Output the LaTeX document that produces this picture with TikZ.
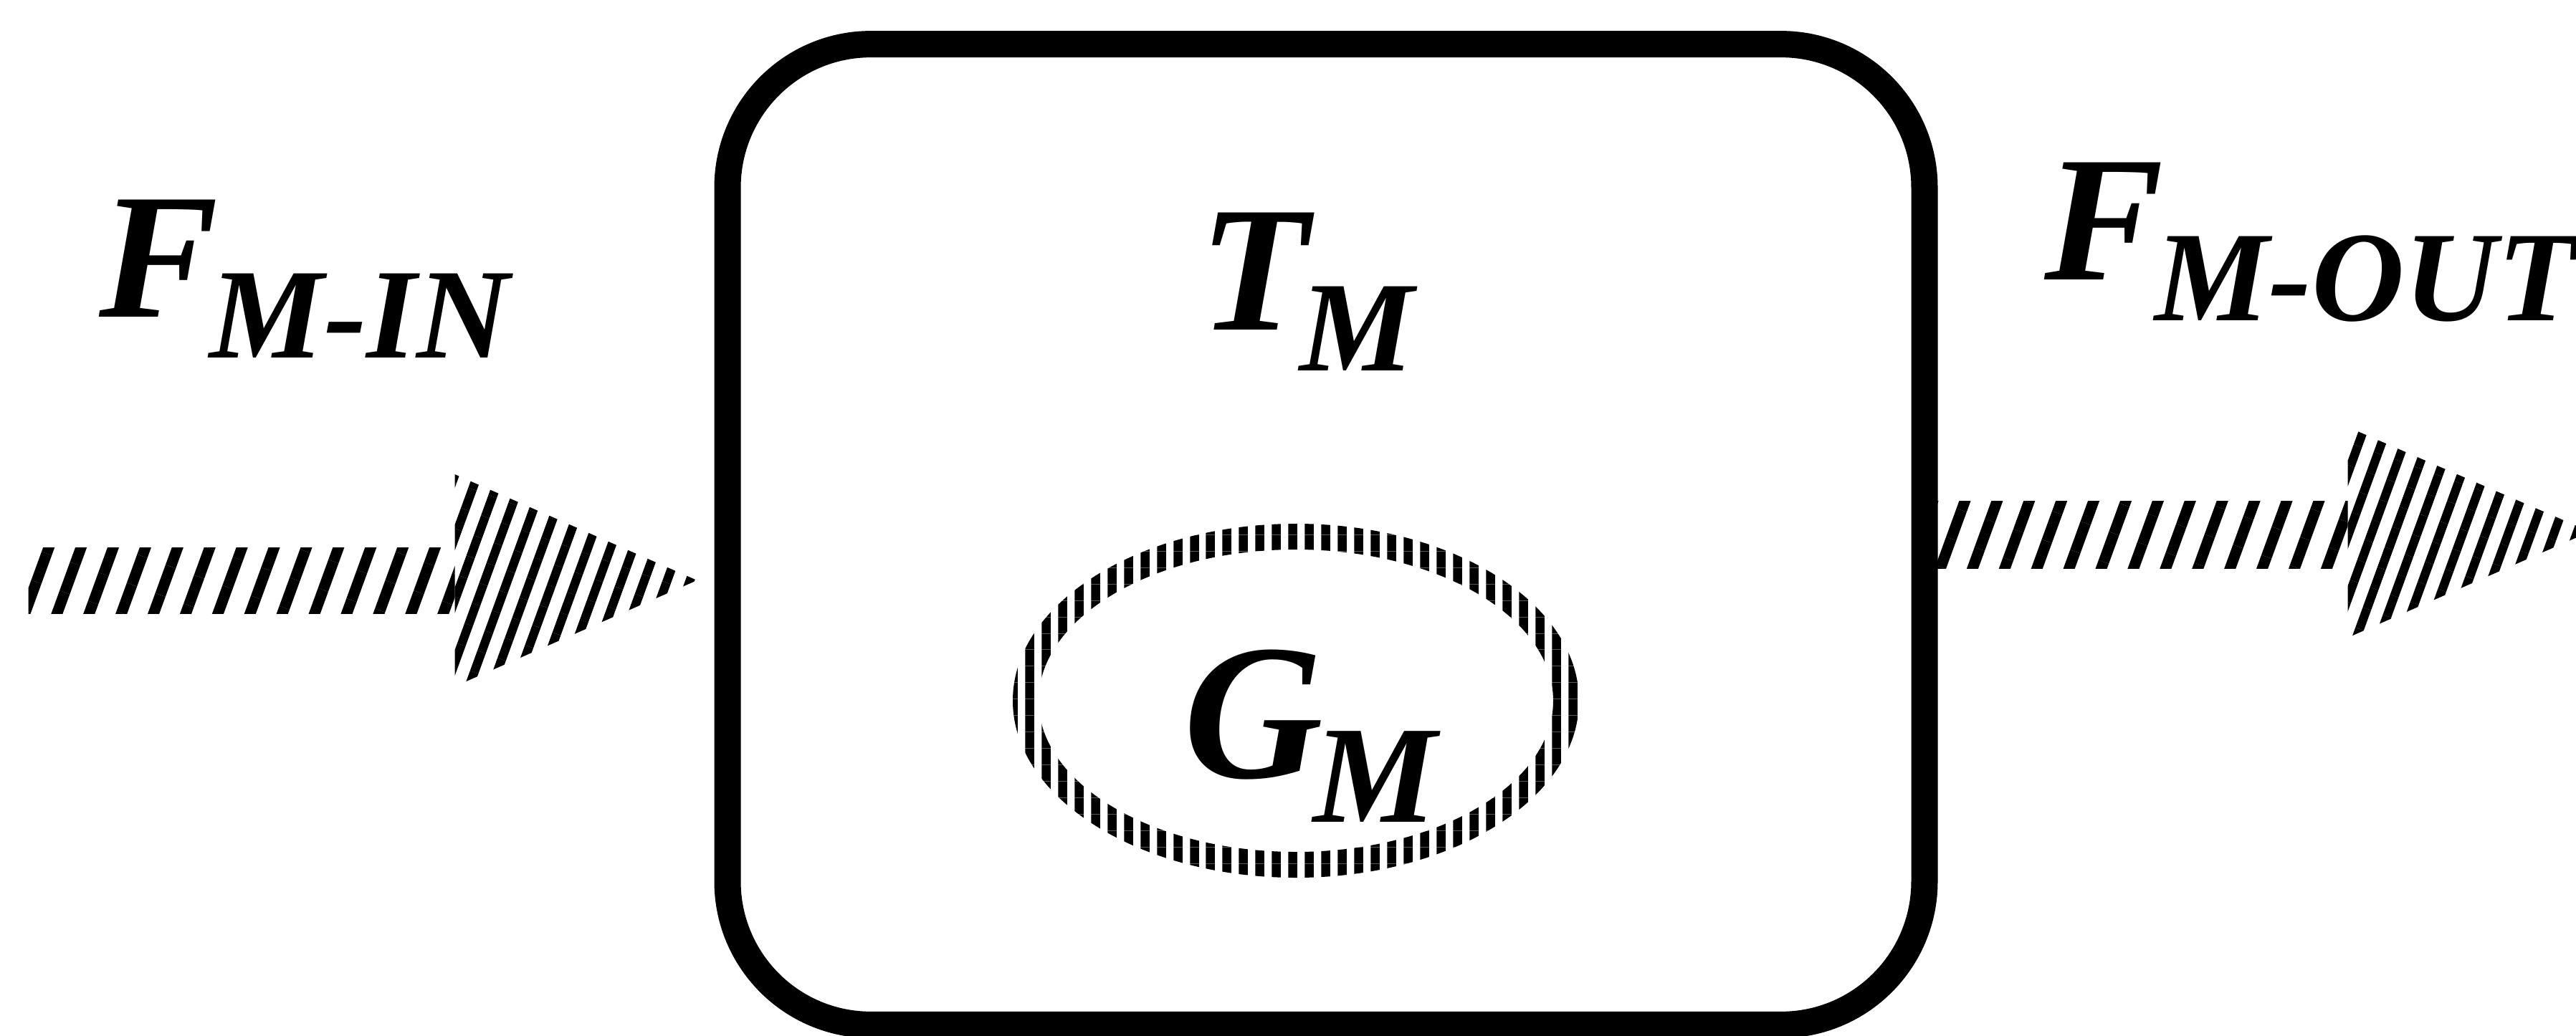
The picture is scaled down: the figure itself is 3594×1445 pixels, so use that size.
\documentclass[tikz,border=0pt]{standalone}
\usepackage{fontspec}
\setmainfont{Liberation Serif}
\usetikzlibrary{calc,patterns.meta}
\tikzset{
  tankbox/.style={draw=black, line width=0.37cm, rounded corners=2cm, minimum width=16.69cm, minimum height=13.68cm, inner sep=0pt},
  symlabel/.style={font=\fontsize{71}{80}\selectfont\bfseries\itshape, inner sep=0pt, anchor=base},
  shafthatch/.style={pattern={Lines[angle=70, distance=12pt, line width=4.3pt]}},
  headhatch/.style={pattern={Lines[angle=70, distance=8.5pt, line width=3.5pt]}},
  gashatch/.style={pattern={Lines[angle=90, distance=6.5pt, line width=3.6pt]}, even odd rule},
}
\newcommand{\symsub}[2]{#1\kern-0.05em\raisebox{-0.23em}{\fontsize{51}{56}\selectfont #2}}
\begin{document}
\begin{tikzpicture}[x=0.01cm, y=-0.01cm]
  \useasboundingbox (0,0) rectangle (3594,1445);

  \node[tankbox] (tank) at (1850,746) {};
  \node[symlabel] (tanklbl) at (1823,460) {\symsub{T}{M}};
  \node[symlabel, scale=1.08] (gaslbl) at (1828,1085) {\symsub{G}{M}};
  \node[symlabel] (inlbl) at (425,442) {\symsub{F}{M-IN}};
  \node[symlabel] (outlbl) at (3223,390) {\symsub{F}{M-OUT}};

  % gas ring
  \coordinate (gasc) at (1808,978);
  \path[gashatch] (gasc) ellipse [x radius=395, y radius=247] (gasc) ellipse [x radius=359, y radius=211];

  % inflow and outflow
  \coordinate (intip) at ($(tank.west)+(-24,64)$);
  \coordinate (outtail) at ($(tank.east)+(-10,0)$);
  \path[shafthatch] ($(intip)+(-933,-46)$) rectangle ($(intip)+(-338,46)$);
  \path[headhatch] ($(intip)+(-338,-148)$) -- (intip) -- ($(intip)+(-338,148)$) -- cycle;
  \path[shafthatch] ($(outtail)+(0,-47)$) rectangle ($(outtail)+(582,47)$);
  \path[headhatch] ($(outtail)+(582,-150)$) -- ($(outtail)+(920,-4)$) -- ($(outtail)+(582,144)$) -- cycle;
\end{tikzpicture}
\end{document}
